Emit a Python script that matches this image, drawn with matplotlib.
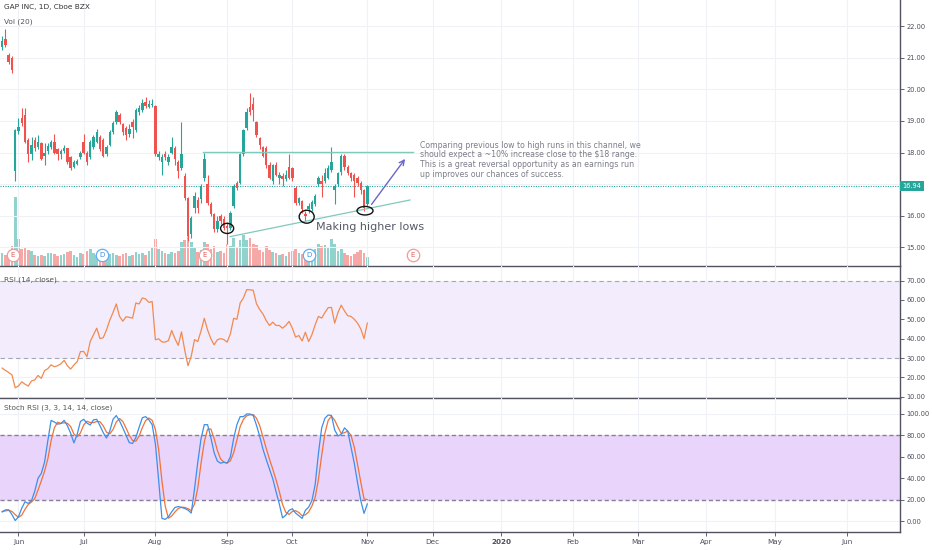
import matplotlib
matplotlib.use("Agg")
import matplotlib.pyplot as plt
import matplotlib.transforms as mtransforms
from matplotlib.patches import Ellipse

# ---------------- data ----------------
bar_index = list(range(-5, 108))

opens = [21.33, 21.58, 21.10, 21.00, 17.43,
         18.68, 19.09, 19.19, 18.39, 17.97, 18.39, 18.17, 18.29, 17.90, 18.05,
         18.17, 18.33, 18.10, 17.95, 18.05, 18.13, 17.85, 17.53, 17.65, 17.85,
         18.33, 18.00, 17.85, 18.17, 18.33, 18.49, 18.39, 17.97, 18.23, 18.65,
         18.96, 19.20, 18.90, 18.77, 18.60, 18.96, 18.70, 19.28, 19.35, 19.60,
         19.45, 19.50, 19.48, 17.85, 17.69, 17.95, 17.69, 18.00, 18.13, 17.69,
         17.50, 17.27, 16.57, 15.42, 16.25, 16.50, 16.54, 17.20, 17.00, 16.38,
         16.06, 15.58, 16.00, 15.90, 15.68, 15.61, 16.31, 17.04, 17.04, 17.97,
         18.77, 19.45, 19.55, 18.96, 18.45, 18.17, 18.13, 17.60, 17.11, 17.60,
         17.20, 17.25, 17.15, 17.55, 17.50, 16.89, 16.41, 16.47, 16.05, 16.20,
         16.22, 16.38, 17.02, 17.10, 17.11, 17.20, 17.45, 16.80, 17.02, 17.37,
         17.90, 17.53, 17.34, 17.30, 17.20, 17.05, 16.80, 16.38]
highs = [21.70, 21.90, 21.15, 21.05, 18.75,
         19.10, 19.41, 19.40, 18.45, 18.50, 18.50, 18.55, 18.35, 18.30, 18.30,
         18.40, 18.60, 18.15, 18.10, 18.25, 18.15, 17.90, 17.75, 17.80, 18.05,
         18.60, 18.05, 18.40, 18.55, 18.75, 18.55, 18.45, 18.25, 18.70, 19.00,
         19.35, 19.25, 18.95, 18.85, 18.90, 19.05, 19.40, 19.50, 19.70, 19.75,
         19.65, 19.70, 19.50, 18.05, 17.95, 18.05, 17.95, 18.50, 18.20, 17.75,
         18.97, 17.34, 16.60, 16.00, 16.75, 16.60, 17.00, 18.00, 17.30, 16.45,
         16.10, 16.00, 16.05, 16.00, 15.81, 16.15, 17.00, 17.10, 18.00, 18.75,
         19.40, 19.90, 19.75, 19.00, 18.50, 18.20, 18.20, 17.70, 17.65, 17.70,
         17.40, 17.35, 17.45, 17.95, 17.55, 16.95, 16.60, 16.50, 16.15, 16.40,
         16.50, 16.70, 17.25, 17.30, 17.50, 17.60, 18.17, 17.00, 17.40, 17.95,
         17.95, 17.60, 17.40, 17.35, 17.25, 17.10, 16.85, 16.98]
lows = [21.25, 21.35, 20.80, 20.53, 17.11,
        18.60, 18.85, 18.30, 17.69, 17.75, 18.05, 18.10, 17.75, 17.60, 17.95,
        18.10, 17.95, 17.75, 17.80, 18.00, 17.65, 17.45, 17.50, 17.60, 17.80,
        17.95, 17.60, 17.80, 18.10, 18.30, 18.05, 17.85, 17.90, 18.20, 18.60,
        18.90, 18.90, 18.55, 18.40, 18.50, 18.45, 18.65, 19.20, 19.30, 19.40,
        19.40, 19.45, 17.90, 17.75, 17.30, 17.75, 17.60, 17.95, 17.60, 17.20,
        17.45, 16.50, 15.20, 15.30, 16.10, 16.10, 16.40, 17.10, 16.35, 16.00,
        15.50, 15.50, 15.75, 15.55, 15.12, 15.55, 16.25, 16.80, 17.00, 17.90,
        18.70, 19.20, 19.00, 18.50, 18.10, 17.85, 17.50, 17.15, 17.00, 17.25,
        17.00, 16.95, 17.10, 17.15, 17.10, 16.35, 16.35, 16.10, 15.83, 16.10,
        16.15, 16.30, 16.95, 16.60, 17.05, 17.15, 17.40, 16.38, 16.95, 17.30,
        17.45, 17.30, 17.10, 16.60, 16.95, 16.70, 16.15, 16.30]
closes = [21.52, 21.42, 20.88, 20.62, 18.71,
          18.80, 18.93, 18.33, 17.97, 18.23, 18.13, 18.33, 17.81, 18.00, 18.20,
          18.33, 18.00, 17.95, 18.05, 18.15, 17.69, 17.50, 17.69, 17.72, 18.00,
          18.00, 17.70, 18.33, 18.49, 18.65, 18.10, 17.90, 18.17, 18.65, 18.93,
          19.28, 18.96, 18.65, 18.55, 18.75, 18.80, 19.35, 19.41, 19.57, 19.48,
          19.55, 19.55, 17.97, 17.97, 17.85, 17.85, 17.85, 18.17, 17.81, 17.43,
          17.97, 16.57, 15.35, 15.93, 16.63, 16.25, 16.95, 17.80, 16.40, 16.06,
          15.58, 15.83, 15.83, 15.62, 15.60, 16.09, 16.95, 16.89, 17.97, 18.71,
          19.28, 19.30, 19.35, 18.55, 18.23, 17.90, 17.60, 17.20, 17.60, 17.30,
          17.30, 17.15, 17.30, 17.20, 17.20, 16.41, 16.55, 16.22, 16.00, 16.30,
          16.45, 16.63, 17.18, 17.00, 17.34, 17.50, 17.69, 16.95, 17.34, 17.90,
          17.53, 17.34, 17.20, 17.10, 17.05, 16.80, 16.25, 16.94]
volume_m = [6, 5, 6, 9, 31.5,
            12.5, 8, 8.5, 7.5, 7, 5, 4.5, 5, 4.5, 6,
            6, 5.5, 4.5, 5, 5.5, 6.5, 7, 5, 4, 6,
            5.5, 7, 8, 6, 5, 4.5, 5, 4.5, 5.5, 6,
            5, 4.5, 5.5, 6, 4.5, 5, 6.5, 5.5, 6, 5,
            7, 8.5, 12.5, 8, 7, 6, 5.5, 6.5, 6, 7,
            11, 12, 15, 11, 8.5, 6.5, 7.5, 11, 10, 8,
            9, 6.5, 7, 6, 10, 9, 13, 8.5, 12, 14,
            12, 13, 10, 9.5, 7.5, 6.5, 9, 7.5, 6.5, 6,
            5, 5.5, 4.5, 6.5, 7, 8, 6, 5.5, 7, 6,
            6.5, 8, 10, 9, 9.5, 8.5, 12.5, 10, 7, 8,
            6, 5, 4.5, 5.5, 6.5, 7.5, 6, 4]
rsi = [24.8, 23.6, 22.5, 21.3, 14.6,
       15.6, 17.7, 16.5, 15.5, 18.2, 18.7, 21.0, 19.5, 23.5, 24.5,
       26.5, 25.5, 26.0, 27.0, 28.8, 26.0, 24.3, 26.4, 28.1, 33.3,
       33.4, 30.7, 38.5, 42.0, 45.4, 40.0, 40.5, 44.5, 49.5, 53.5,
       57.9, 51.5, 49.0, 51.3, 51.0, 50.6, 58.4, 57.9, 61.0, 60.5,
       58.7, 59.2, 39.4, 39.9, 38.3, 38.2, 39.0, 44.2, 40.0, 36.5,
       43.5, 34.0, 26.0, 31.0, 39.5, 38.5, 44.0, 50.5, 44.5, 40.0,
       36.8, 39.4, 40.0, 39.5, 38.2, 42.5, 50.5, 50.0, 58.4, 61.0,
       65.3, 65.2, 65.0, 58.0, 55.0, 52.7, 49.3, 46.8, 48.5, 46.8,
       46.8, 45.4, 46.8, 48.9, 45.4, 40.8, 41.6, 38.8, 43.3, 38.5,
       42.0, 47.1, 51.5, 50.6, 53.5, 56.0, 56.1, 48.0, 53.5, 57.3,
       54.3, 51.8, 51.5, 50.0, 48.0, 45.0, 40.0, 48.0]
stoch_k = [8.5, 10.5, 10.5, 6.0, 0.5,
           4.0, 12.0, 18.0, 16.5, 19.0, 28.0, 40.0, 44.5, 55.0, 75.0,
           94.0, 92.5, 90.5, 91.0, 94.0, 89.0, 82.0, 73.0, 81.0, 93.0,
           95.0, 91.5, 89.7, 94.5, 95.0, 89.0, 82.5, 77.5, 84.0, 95.0,
           98.5, 93.5, 87.0, 80.0, 73.2, 72.5, 78.0, 87.5, 96.5, 97.5,
           94.5, 90.0, 72.0, 38.0, 2.5, 1.6, 4.0, 8.7, 12.7, 13.6,
           12.7, 11.8, 10.2, 7.5, 30.0, 55.0, 77.0, 90.0, 90.0, 78.0,
           64.0, 56.0, 54.0, 55.0, 54.0, 60.0, 77.0, 90.0, 97.5, 97.5,
           100.0, 100.0, 98.6, 89.5, 79.0, 67.0, 57.5, 48.5, 39.5, 27.5,
           16.0, 3.0, 5.5, 10.0, 11.5, 7.5, 5.0, 2.5, 10.0, 13.0,
           19.0, 34.0, 63.0, 87.0, 96.0, 99.0, 98.6, 85.0, 79.5, 81.0,
           87.0, 84.0, 69.0, 54.0, 36.0, 19.0, 7.2, 16.0]
stoch_d = [9.0, 9.5, 10.0, 9.0, 6.0,
           3.5, 5.5, 11.0, 15.5, 17.8, 21.0, 29.0, 37.5, 46.5, 58.0,
           75.0, 87.0, 92.3, 91.3, 91.8, 91.3, 88.3, 81.3, 78.7, 82.3,
           89.7, 93.2, 92.0, 91.9, 93.0, 92.8, 88.8, 83.0, 81.3, 85.5,
           92.5, 95.7, 93.0, 86.8, 80.0, 75.2, 74.6, 79.3, 87.3, 93.8,
           96.2, 94.0, 85.5, 66.7, 37.5, 14.0, 2.7, 4.8, 8.5, 11.7,
           13.0, 12.7, 11.6, 9.8, 16.0, 31.0, 54.0, 74.0, 85.7, 86.0,
           77.3, 66.0, 58.0, 55.0, 54.3, 56.3, 63.7, 75.7, 88.2, 95.0,
           98.3, 99.2, 99.5, 96.0, 89.0, 78.5, 67.8, 57.7, 48.5, 38.5,
           27.7, 15.5, 8.2, 6.2, 9.0, 9.7, 8.0, 5.0, 5.8, 8.5,
           14.0, 22.0, 38.7, 61.3, 82.0, 94.0, 97.9, 94.2, 87.7, 81.8,
           82.5, 84.0, 80.0, 69.0, 53.0, 36.3, 20.7, 20.0]

month_ticks = [0, 20, 42, 64, 84, 107, 127, 148, 170, 190, 211, 232, 254]
month_labels = ["Jun", "Jul", "Aug", "Sep", "Oct", "Nov", "Dec", "2020",
                "Feb", "Mar", "Apr", "May", "Jun"]
price_ticks = [15, 16, 18, 19, 20, 21, 22]
rsi_ticks = [10, 20, 30, 40, 50, 60, 70]
stoch_ticks = [0, 20, 40, 60, 80, 100]
last_price = 16.94
earnings_bars = [-1.7, 57.2, 121.0]
dividend_bars = [25.6, 89.1]

annotation = ("Comparing previous low to high runs in this channel, we\n"
              "should expect a ~10% increase close to the $18 range.\n"
              "This is a great reversal opportunity as an earnings run\n"
              "up improves our chances of success.")

# ---------------- style ----------------
UP = "#26a69a"
DOWN = "#ef5350"
GRID = "#eef1f6"
AXC = "#50535e"
TXT = "#4a4e5a"
TICKFS = 4.8

W, H = 932, 550
fig = plt.figure(figsize=(W / 100, H / 100), dpi=100)
fig.patch.set_facecolor("white")

right = 900 / W
def rect(top_px, bot_px):
    return [0, 1 - bot_px / H, right, (bot_px - top_px) / H]

ax = fig.add_axes(rect(0, 266))
ax_rsi = fig.add_axes(rect(266, 398), sharex=ax)
ax_st = fig.add_axes(rect(398, 532), sharex=ax)

xmin, xmax = -5.67, 270.4
ax.set_xlim(xmin, xmax)

for a in (ax, ax_rsi, ax_st):
    for s in ("left", "top"):
        a.spines[s].set_visible(False)
    for s in ("right", "bottom"):
        a.spines[s].set_color(AXC)
        a.spines[s].set_linewidth(1.0)
    a.yaxis.tick_right()
    a.tick_params(axis="y", length=3, width=0.6, pad=1.5, labelsize=TICKFS,
                  colors=TXT, direction="out")
    for t in month_ticks:
        a.axvline(t, color=GRID, lw=0.8, zorder=0)
    a.set_facecolor("none")

# ---------------- volume ----------------
axv = fig.add_axes(rect(0, 266), sharex=ax, zorder=-1)
axv.set_axis_off()
axv.set_ylim(0, 122)
vcols = [UP if c >= o else DOWN for o, c in zip(opens, closes)]
axv.bar(bar_index, volume_m, width=0.8, color=vcols, alpha=0.5, linewidth=0)

# ---------------- candles ----------------
ax.set_ylim(14.41, 22.83)
for p in price_ticks:
    ax.axhline(p, color=GRID, lw=0.8, zorder=0)
ax.axhline(17, color=GRID, lw=0.8, zorder=0)
ax.vlines(bar_index, lows, highs, colors=vcols, lw=0.8, zorder=3)
bodies = [max(abs(c - o), 0.025) for o, c in zip(opens, closes)]
bottoms = [min(o, c) for o, c in zip(opens, closes)]
ax.bar(bar_index, bodies, bottom=bottoms, width=0.75, color=vcols,
       linewidth=0, zorder=4)
ax.set_yticks(price_ticks)
ax.set_yticklabels([f"{p:.2f}" for p in price_ticks])
ax.tick_params(axis="x", bottom=False, labelbottom=False)

# last price line and label
ax.axhline(last_price, color=UP, lw=0.8, ls=(0, (1, 1.2)), zorder=2)
blend = mtransforms.blended_transform_factory(ax.transAxes, ax.transData)
ax.text(1.003, last_price, f"{last_price:.2f}", transform=blend,
        ha="left", va="center", fontsize=TICKFS, color="white", clip_on=False,
        bbox=dict(boxstyle="square,pad=0.35", fc=UP, ec="none"), zorder=10)

# drawings
ax.plot([56.6, 121.0], [18.02, 18.02], color="#7fc9bd", lw=1.0, zorder=5)
ax.plot([64.9, 120.1], [15.34, 16.50], color="#7fc9bd", lw=0.9, zorder=5)
ax.annotate("", xy=(119.1, 17.87), xytext=(107.8, 16.29),
            arrowprops=dict(arrowstyle="->", color="#6a66c8", lw=1.0,
                            mutation_scale=9), zorder=6)
for (cx, cy, w, h) in [(64.0, 15.60, 4.0, 0.32), (88.4, 15.97, 4.6, 0.41),
                       (106.3, 16.16, 4.9, 0.27)]:
    ax.add_patch(Ellipse((cx, cy), w, h, fill=False, ec="#111111", lw=1.0,
                         zorder=7))
ax.text(91.3, 15.64, "Making higher lows", fontsize=8, color="#555a66",
        ha="left", va="center", zorder=8)
ax.text(123.2, 18.37, annotation, fontsize=5.6, color="#7a7e88", ha="left",
        va="top", linespacing=1.08, zorder=8)

# E / D markers
xt = ax.get_xaxis_transform()
ax.scatter(earnings_bars, [0.041] * len(earnings_bars), s=80, marker="o",
           facecolor="white", edgecolor="#f29a9a", lw=0.9, transform=xt,
           zorder=9, clip_on=False)
for e in earnings_bars:
    ax.text(e, 0.041, "E", transform=xt, ha="center", va="center",
            fontsize=5, color="#e25b5b", zorder=10)
ax.scatter(dividend_bars, [0.041] * len(dividend_bars), s=80, marker="o",
           facecolor="white", edgecolor="#62aef2", lw=0.9, transform=xt,
           zorder=9)
for d in dividend_bars:
    ax.text(d, 0.041, "D", transform=xt, ha="center", va="center",
            fontsize=5, color="#3a8fe0", zorder=10)

ax.text(0.005, 0.985, "GAP INC, 1D, Cboe BZX", transform=ax.transAxes,
        fontsize=5.3, color="#333333", ha="left", va="top")
ax.text(0.005, 0.932, "Vol (20)", transform=ax.transAxes,
        fontsize=5.3, color="#555555", ha="left", va="top")

# ---------------- RSI ----------------
ax_rsi.set_ylim(9.35, 77.5)
for t in rsi_ticks:
    ax_rsi.axhline(t, color=GRID, lw=0.8, zorder=0)
ax_rsi.axhspan(30, 70, color="#f2ecfd", zorder=0.5, lw=0)
ax_rsi.axhline(70, color="#a8a6b4", lw=0.8, ls=(0, (4, 3)), zorder=1)
ax_rsi.axhline(30, color="#a8a6b4", lw=0.8, ls=(0, (4, 3)), zorder=1)
ax_rsi.plot(bar_index, rsi, color="#f28a4e", lw=0.9, zorder=3)
ax_rsi.set_yticks(rsi_ticks)
ax_rsi.set_yticklabels([f"{t:.2f}" for t in rsi_ticks])
ax_rsi.tick_params(axis="x", bottom=False, labelbottom=False)
ax_rsi.text(0.005, 0.92, "RSI (14, close)", transform=ax_rsi.transAxes,
            fontsize=5.3, color="#555555", ha="left", va="top")

# ---------------- Stoch RSI ----------------
ax_st.set_ylim(-10.2, 114.9)
for t in stoch_ticks:
    ax_st.axhline(t, color=GRID, lw=0.8, zorder=0)
ax_st.axhspan(20, 80, color="#e9d4fb", zorder=0.5, lw=0)
ax_st.axhline(80, color="#8c7c9c", lw=1.0, ls=(0, (3, 2)), zorder=1)
ax_st.axhline(20, color="#8c7c9c", lw=1.0, ls=(0, (3, 2)), zorder=1)
ax_st.plot(bar_index, stoch_d, color="#f0733a", lw=0.9, zorder=3)
ax_st.plot(bar_index, stoch_k, color="#3d8fe8", lw=0.9, zorder=4)
ax_st.set_yticks(stoch_ticks)
ax_st.set_yticklabels([f"{t:.2f}" for t in stoch_ticks])
ax_st.set_xticks(month_ticks)
ax_st.set_xticklabels(month_labels)
ax_st.tick_params(axis="x", length=3, width=0.6, pad=2, labelsize=5.2,
                  colors=TXT)
for lbl in ax_st.get_xticklabels():
    if lbl.get_text() == "2020":
        lbl.set_fontweight("bold")
ax_st.text(0.005, 0.955, "Stoch RSI (3, 3, 14, 14, close)",
           transform=ax_st.transAxes, fontsize=5.3, color="#555555",
           ha="left", va="top")

ax.set_xlim(xmin, xmax)
fig.savefig("out.png", dpi=100, facecolor="white")
